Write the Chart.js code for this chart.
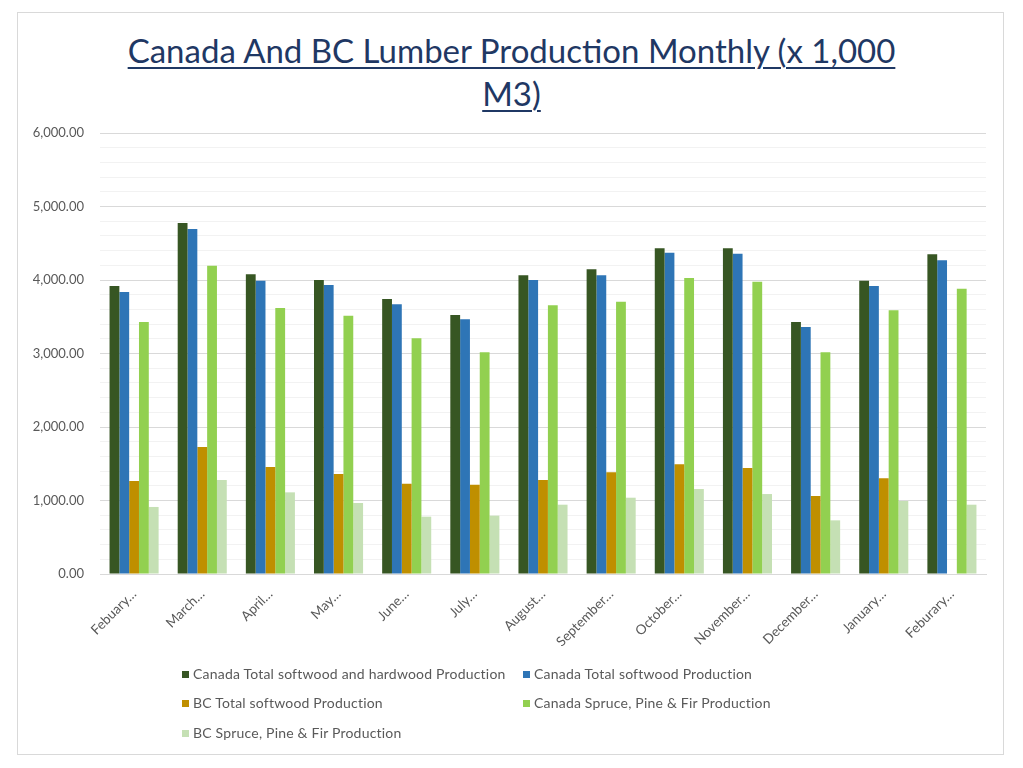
<!DOCTYPE html>
<html>
<head>
<meta charset="utf-8">
<script src="https://cdn.jsdelivr.net/npm/chart.js@4.4.1/dist/chart.umd.min.js"></script>
<style>
    html, body { margin: 0; padding: 0; background: #fff; }
    body { width: 1023px; height: 768px; position: relative; overflow: hidden; font-family: Lato, "Open Sans", sans-serif; }
    #marco { position: absolute; left: 17px; top: 12px; width: 987px; height: 743px; border: 1px solid #d9d9d9; box-sizing: border-box; }
    #titulo { position: absolute; left: 0; top: 29px; width: 1023px; text-align: center; color: #1f3864; font-size: 33px; line-height: 43px; text-decoration: underline; text-decoration-thickness: 2px; text-underline-offset: 4px; }
    #lienzo { position: absolute; left: 0; top: 0; }
    #leyenda { position: absolute; left: 0; top: 0; width: 1023px; height: 768px; pointer-events: none; }
    .item { position: absolute; font-size: 14px; letter-spacing: 0.2px; color: #595959; white-space: nowrap; line-height: 16px; }
    .item i { display: inline-block; width: 7px; height: 7px; margin-right: 4px; vertical-align: 1px; }
</style>
</head>
<body>
<div id="marco"></div>
<div id="titulo">Canada And BC Lumber Production Monthly (x 1,000<br>M3)</div>
<canvas id="lienzo" width="1023" height="768"></canvas>
<div id="leyenda"></div>
<script>
// Datos (miles de m3)
const meses = ['Febuary…', 'March…', 'April…', 'May…', 'June…', 'July…', 'August…',
    'September…', 'October…', 'November…', 'December…', 'January…', 'Feburary…'];

const canadaTotal = [3920, 4776, 4077, 4000, 3741, 3524, 4063, 4145, 4431, 4431, 3429, 3991, 4349];
const canadaSoftwood = [3837, 4694, 3991, 3932, 3669, 3465, 4000, 4063, 4372, 4358, 3361, 3918, 4268];
const bcSoftwood = [1265, 1728, 1456, 1361, 1229, 1215, 1279, 1383, 1492, 1442, 1061, 1302, null];
const canadaSpf = [3429, 4195, 3619, 3515, 3206, 3016, 3655, 3705, 4027, 3977, 3016, 3587, 3882];
const bcSpf = [912, 1279, 1111, 966, 780, 794, 943, 1038, 1156, 1088, 730, 993, 943];

const series = [
    { nombre: 'Canada Total softwood and hardwood Production', datos: canadaTotal, color: '#375623' },
    { nombre: 'Canada Total softwood Production', datos: canadaSoftwood, color: '#2e75b6' },
    { nombre: 'BC Total softwood Production', datos: bcSoftwood, color: '#bf8f00' },
    { nombre: 'Canada Spruce, Pine & Fir Production', datos: canadaSpf, color: '#92d050' },
    { nombre: 'BC Spruce, Pine & Fir Production', datos: bcSpf, color: '#c5e0b4' },
];

const fmt = new Intl.NumberFormat('en-US', { minimumFractionDigits: 2, maximumFractionDigits: 2 });

new Chart(document.getElementById('lienzo'), {
    type: 'bar',
    data: {
        labels: meses,
        datasets: series.map(s => ({
            label: s.nombre,
            data: s.datos,
            backgroundColor: s.color,
            borderWidth: 0,
            barPercentage: 1.0,
            categoryPercentage: 0.72,
        }))
    },
    options: {
        responsive: false, animation: false,
        devicePixelRatio: 1,
        layout: { padding: { left: 0, right: 37, top: 133, bottom: 0 } },
        plugins: { legend: { display: false }, tooltip: { enabled: false } },
        scales: {
            x: {
                grid: { display: false },
                border: { color: '#d9d9d9', width: 1 },
                ticks: { color: '#595959', font: { family: 'Lato', size: 13.5 }, minRotation: 45, maxRotation: 45, padding: 4, autoSkip: false },
                afterFit: s => { s.height = 194; }
            },
            y: {
                min: 0, max: 6000,
                border: { display: false },
                grid: {
                    drawTicks: false,
                    color: c => (c.tick && c.tick.value % 1000 === 0) ? '#d9d9d9' : '#f2f2f2',
                    lineWidth: 1
                },
                ticks: {
                    stepSize: 200, autoSkip: false, padding: 16,
                    color: '#595959', font: { family: 'Lato', size: 13 },
                    callback: v => v % 1000 === 0 ? fmt.format(v) : ''
                },
                afterFit: s => { s.width = 100; }
            }
        }
    }
});

// Leyenda en cuadrícula como en el original
const posLeyenda = [[182, 666], [523, 666], [182, 695], [523, 695], [182, 725]];
const leyenda = document.getElementById('leyenda');
series.forEach((s, i) => {
    const d = document.createElement('div');
    d.className = 'item';
    d.style.left = posLeyenda[i][0] + 'px';
    d.style.top = posLeyenda[i][1] + 'px';
    d.innerHTML = `<i style="background:${s.color}"></i>`;
    d.appendChild(document.createTextNode(s.nombre));
    leyenda.appendChild(d);
});
</script>
</body>
</html>
